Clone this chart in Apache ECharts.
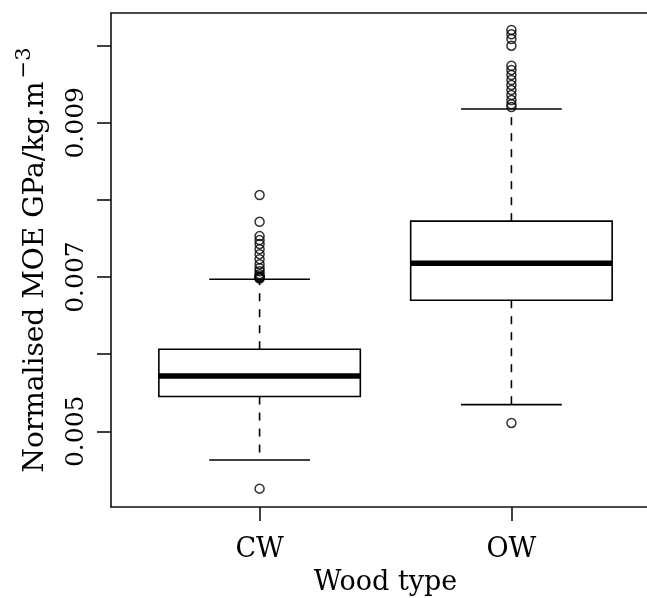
<!DOCTYPE html>
<html>
<head>
<meta charset="utf-8">
<script src="https://cdn.jsdelivr.net/npm/echarts@6/dist/echarts.min.js"></script>
<style>
  html, body { margin: 0; padding: 0; background: #fff; overflow: hidden; }
  #chart { width: 680px; height: 598px; }
</style>
</head>
<body>
<div id="chart"></div>
<script>
// categories and box statistics: [lower whisker, Q1, median, Q3, upper whisker]
var categories = ['CW', 'OW'];
var cwStats = [0.004628, 0.005450, 0.005718, 0.006064, 0.006972];
var owStats = [0.005346, 0.006700, 0.007180, 0.007725, 0.009179];

// outliers
var cwOutliers = [0.004256, 0.008063, 0.007716, 0.007531, 0.007479, 0.007427, 0.007362,
    0.007297, 0.007232, 0.007167, 0.007115, 0.007076, 0.007037, 0.007010, 0.006998,
    0.006990, 0.006982];
var owOutliers = [0.005108, 0.010204, 0.010148, 0.010087, 0.010000, 0.009740, 0.009685,
    0.009620, 0.009555, 0.009490, 0.009425, 0.009360, 0.009295, 0.009240, 0.009205];

// axis ticks
var yTicks = [0.005, 0.006, 0.007, 0.008, 0.009, 0.010];
var yLabels = [0.005, 0.007, 0.009];
var xTicks = [1, 2];

var font = 'DejaVu Serif';
var frame = { show: true, lineStyle: { color: '#111', width: 1.6 } };

//画一个箱线
function renderBox(params, api) {
    var x = api.value(0);
    var lo = api.coord([x, api.value(1)]);
    var q1 = api.coord([x, api.value(2)]);
    var med = api.coord([x, api.value(3)]);
    var q3 = api.coord([x, api.value(4)]);
    var hi = api.coord([x, api.value(5)]);
    var boxW = api.size([0.8, 0])[0];
    var capW = api.size([0.4, 0])[0];
    var cx = lo[0];
    var dash = { stroke: '#000', lineWidth: 1.6, lineDash: [8, 8] };
    var solid = { stroke: '#000', lineWidth: 1.6 };
    return {
        type: 'group',
        children: [
            { type: 'line', shape: { x1: cx, y1: q3[1], x2: cx, y2: hi[1] }, style: dash },
            { type: 'line', shape: { x1: cx, y1: q1[1], x2: cx, y2: lo[1] }, style: dash },
            { type: 'line', shape: { x1: cx - capW / 2, y1: hi[1], x2: cx + capW / 2, y2: hi[1] }, style: solid },
            { type: 'line', shape: { x1: cx - capW / 2, y1: lo[1], x2: cx + capW / 2, y2: lo[1] }, style: solid },
            {
                type: 'rect',
                shape: { x: cx - boxW / 2, y: q3[1], width: boxW, height: q1[1] - q3[1] },
                style: { fill: '#fff', stroke: '#000', lineWidth: 1.6 }
            },
            { type: 'line', shape: { x1: cx - boxW / 2, y1: med[1], x2: cx + boxW / 2, y2: med[1] }, style: { stroke: '#000', lineWidth: 5.5 } }
        ]
    };
}

var myChart = echarts.init(document.getElementById('chart'));

var option = {
    animation: false,
    backgroundColor: '#fff',
    grid: {
        left: 111, top: 13, width: 549, height: 494,
        outerBoundsMode: 'none',
        show: false
    },
    xAxis: [{
        type: 'value',
        min: 0.41, max: 2.59,
        name: 'Wood type',
        nameLocation: 'middle',
        nameGap: 62,
        nameTextStyle: { fontFamily: font, fontSize: 27, color: '#000' },
        axisLine: frame,
        splitLine: { show: false },
        axisTick: { show: true, customValues: xTicks, length: 14, inside: false, lineStyle: { color: '#111', width: 1.6 } },
        axisLabel: {
            customValues: xTicks, margin: 29,
            fontFamily: font, fontSize: 27, color: '#000',
            formatter: function(v) { return categories[Math.round(v) - 1]; }
        }
    }, {
        // 顶边框
        type: 'value',
        position: 'top',
        min: 0.41, max: 2.59,
        axisLine: frame,
        axisTick: { show: false },
        axisLabel: { show: false },
        splitLine: { show: false }
    }],
    yAxis: {
        type: 'value',
        min: 0.004018, max: 0.010424,
        name: 'Normalised MOE GPa/kg.m{sup|−3}',
        nameLocation: 'middle',
        nameRotate: 90,
        nameGap: 54,
        nameTextStyle: {
            fontFamily: font, fontSize: 28, color: '#000',
            rich: { sup: { fontFamily: font, fontSize: 21, color: '#000', verticalAlign: 'top', padding: [0, 0, 22, 3] } }
        },
        axisLine: frame,
        splitLine: { show: false },
        axisTick: { show: true, customValues: yTicks, length: 14, lineStyle: { color: '#111', width: 1.6 } },
        axisLabel: {
            customValues: yLabels, margin: 22, rotate: 90,
            align: 'center', verticalAlign: 'bottom',
            fontFamily: font, fontSize: 25, color: '#000',
            formatter: function(v) { return v.toFixed(3); }
        }
    },
    series: [
        {
            type: 'custom',
            renderItem: renderBox,
            data: [[1].concat(cwStats), [2].concat(owStats)],
            z: 2
        },
        {
            type: 'scatter',
            symbol: 'circle',
            symbolSize: 9,
            itemStyle: { color: 'rgba(0,0,0,0)', borderColor: '#000', borderWidth: 1.5 },
            data: cwOutliers.map(function(v) { return [1, v]; })
                .concat(owOutliers.map(function(v) { return [2, v]; })),
            z: 3
        }
    ]
};

myChart.setOption(option, true);
</script>
</body>
</html>
